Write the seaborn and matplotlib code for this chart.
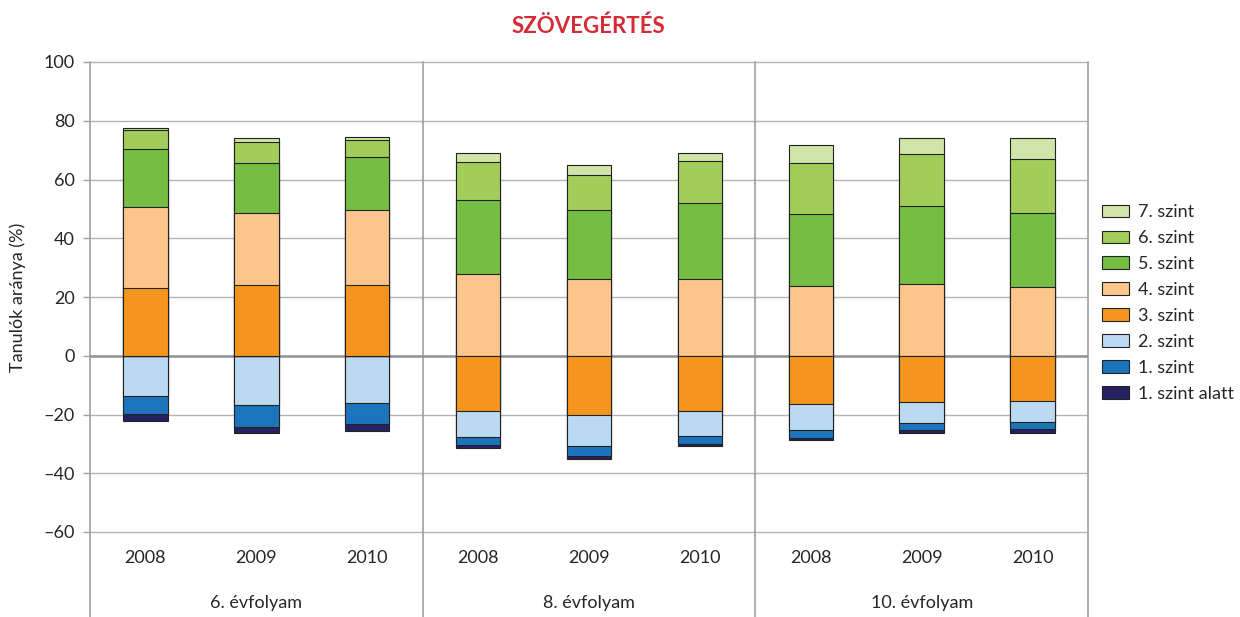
"""
Szövegértés - képességszintek megoszlása évfolyamonként (2008-2010)
Stacked bar chart, levels below 3 (or 4) drawn under the zero line
"""

import numpy as np
import pandas as pd
import matplotlib
matplotlib.use("Agg")
import matplotlib.pyplot as plt
import matplotlib.transforms as mtransforms
from matplotlib.patches import Patch
from matplotlib.ticker import FuncFormatter
import seaborn as sns

# ---- data (% of students) ----
grades = ["6. évfolyam", "8. évfolyam", "10. évfolyam"]
years = ["2008", "2009", "2010"]

# bar order: 6/2008, 6/2009, 6/2010, 8/2008, ... 10/2010
szint_alatt = [2.5, 2.1, 2.3, 0.9, 0.9, 0.9, 0.7, 1.0, 1.3]
szint1 = [6.2, 7.3, 7.3, 2.7, 3.4, 2.7, 2.6, 2.3, 2.3]
szint2 = [13.6, 16.8, 16.1, 8.8, 10.4, 8.5, 8.9, 7.3, 7.3]
szint3 = [23.0, 24.1, 24.1, 18.9, 20.3, 18.7, 16.4, 15.6, 15.3]
szint4 = [27.6, 24.6, 25.6, 27.7, 26.1, 26.1, 23.8, 24.5, 23.4]
szint5 = [19.7, 16.8, 17.8, 25.3, 23.4, 25.8, 24.4, 26.5, 25.3]
szint6 = [6.6, 7.1, 5.9, 12.9, 12.2, 14.3, 17.3, 17.7, 18.3]
szint7 = [0.7, 1.5, 1.2, 3.0, 3.2, 2.7, 6.3, 5.4, 7.1]

# number of levels shown below zero for each grade
levels_below = [3, 4, 4]

level_names = ["1. szint alatt", "1. szint", "2. szint", "3. szint",
               "4. szint", "5. szint", "6. szint", "7. szint"]
level_colors = ["#262262", "#1C75BC", "#BBDAF1", "#F6951E",
                "#FBC58B", "#76BE43", "#A2CD5A", "#D1E5A8"]

# ---- build cumulative heights ----
bars = [f"{g}|{y}" for g in grades for y in years]
values = np.array([szint_alatt, szint1, szint2, szint3,
                   szint4, szint5, szint6, szint7])
n_below = np.repeat(levels_below, len(years))

cum = np.zeros_like(values)
for j in range(values.shape[1]):
    nb = n_below[j]
    for k in range(values.shape[0]):
        if k < nb:
            cum[k, j] = -values[k:nb, j].sum()
        else:
            cum[k, j] = values[nb:k + 1, j].sum()

df = pd.DataFrame(cum.T, columns=level_names)
df["bar"] = bars

# ---- plot ----
sns.set_style("white")
plt.rcParams["font.family"] = ["Lato", "DejaVu Sans"]

fig = plt.figure(figsize=(12.4, 6.17), dpi=100)
ax = fig.add_axes([90 / 1240, 1 - 532 / 617, 998 / 1240, 470 / 617])

edge = "#222222"
# overlapping draw order so every segment ends up visible
draw_order = [0, 1, 2, 7, 6, 5, 4, 3]
for k in draw_order:
    sns.barplot(data=df, x="bar", y=level_names[k], order=bars,
                color=level_colors[k], saturation=1, width=0.4,
                edgecolor=edge, linewidth=0.8, errorbar=None, ax=ax, zorder=3)

ax.set_ylim(-60, 100)
ax.set_xlim(-0.5, len(bars) - 0.5)
ax.set_yticks(np.arange(-60, 101, 20))
ax.yaxis.set_major_formatter(FuncFormatter(lambda v, p: f"{v:.0f}".replace("-", "–")))
ax.tick_params(axis="y", labelsize=13, length=5, width=1, color="#A0A0A0",
               direction="out", pad=6, left=True)
ax.set_xticks([])
ax.set_xlabel("")
ax.set_ylabel("")
ax.grid(axis="y", color="#B4B4B4", linewidth=1, zorder=0)
ax.set_axisbelow(True)
for gl in ax.get_ygridlines():
    gl.set_clip_on(False)
ax.axhline(0, color="#939393", linewidth=1.8, zorder=2)
for s in ax.spines.values():
    s.set_visible(False)

# separators running down through the category labels
trans = mtransforms.blended_transform_factory(ax.transData, ax.transAxes)
for xpos in [-0.5, 2.5, 5.5, 8.5]:
    ax.plot([xpos, xpos], [1, -85 / 470], transform=trans, color="#A0A0A0",
            linewidth=1.2, clip_on=False, zorder=1)

for i, lab in enumerate(bars):
    ax.text(i, -26 / 470, lab.split("|")[1], transform=trans,
            ha="center", va="center", fontsize=13)
for gi, g in enumerate(grades):
    ax.text(gi * 3 + 1, -71 / 470, g, transform=trans,
            ha="center", va="center", fontsize=13)

fig.text(18 / 1240, 1 - 297 / 617, "Tanulók aránya (%)", rotation=90,
         ha="center", va="center", fontsize=13)
fig.text(588 / 1240, 1 - 26 / 617, "SZÖVEGÉRTÉS", ha="center", va="center",
         fontsize=16, fontweight="bold", color="#D52B35")

handles = [Patch(facecolor=level_colors[k], edgecolor=edge, linewidth=0.8,
                 label=level_names[k]) for k in range(7, -1, -1)]
fig.legend(handles=handles, loc="center left",
           bbox_to_anchor=(1095 / 1240, 1 - 303 / 617), frameon=False,
           fontsize=13, handlelength=1.5, handleheight=0.7,
           handletextpad=0.5, labelspacing=0.55, borderaxespad=0)

fig.savefig("out.png", dpi=100)
